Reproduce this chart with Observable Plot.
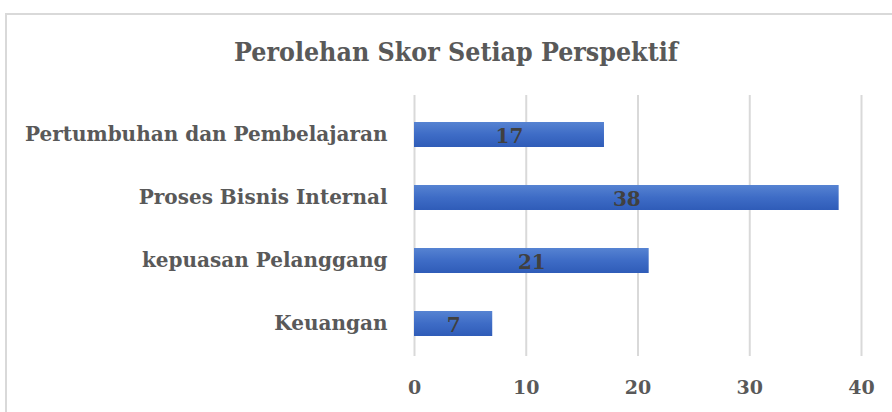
<!DOCTYPE html>
<html>
<head>
<meta charset="utf-8">
<script src="https://cdn.jsdelivr.net/npm/d3@7"></script>
<script src="https://cdn.jsdelivr.net/npm/@observablehq/plot@0.6"></script>
<style>
  html, body { margin: 0; padding: 0; background: #fff; width: 892px; height: 412px; overflow: hidden; }
  #frame { position: absolute; left: 5px; top: 13px; width: 1000px; height: 600px; border-left: 2px solid #d9d9d9; border-top: 2px solid #d9d9d9; }
  #title { position: absolute; left: 0; width: 912px; top: 36px; text-align: center; font-family: "DejaVu Serif Condensed", "DejaVu Serif", serif; font-stretch: condensed; font-weight: bold; font-size: 26.5px; color: #595959; }
  #chart { position: absolute; left: 0; top: 80px; }
</style>
</head>
<body>
<div id="frame"></div>
<div id="title">Perolehan Skor Setiap Perspektif</div>
<div id="chart"></div>
<script>
const categories = ["Pertumbuhan dan Pembelajaran", "Proses Bisnis Internal", "kepuasan Pelanggang", "Keuangan"];
const scores = [17, 38, 21, 7];
const xTicks = [0, 10, 20, 30, 40];

const data = categories.map((c, i) => ({category: c, score: scores[i]}));
const font = "DejaVu Serif";

const plot = Plot.plot({
  width: 892,
  height: 332,
  marginLeft: 414,
  marginRight: 31,
  marginTop: 22,
  marginBottom: 56,
  style: {fontFamily: font, background: "transparent"},
  x: {domain: [0, 40], ticks: xTicks, grid: false},
  y: {domain: categories, paddingInner: 0.61, paddingOuter: 0.305},
  marks: [
    Plot.ruleX(xTicks, {x: d => d, stroke: "#d9d9d9", strokeWidth: 2, strokeOpacity: 1, insetTop: -7}),
    Plot.barX(data, {y: "category", x: "score", fill: "url(#barGrad)", style: "filter: drop-shadow(2px 4px 3px rgba(0,0,0,0.4))"}),
    Plot.text(data, {y: "category", x: d => d.score / 2, text: d => String(d.score), fill: "#404040", fontSize: 20, fontWeight: "bold", dy: 2}),
    Plot.axisX({ticks: xTicks, tickSize: 0, tickPadding: 24, fontSize: 19, fontWeight: "bold", color: "#595959", label: null}),
    Plot.axisY({tickSize: 0, tickPadding: 27, fontSize: 20, fontWeight: "bold", color: "#595959", label: null})
  ]
});

const svgNS = "http://www.w3.org/2000/svg";
const defs = document.createElementNS(svgNS, "defs");
defs.innerHTML = '<linearGradient id="barGrad" x1="0" y1="0" x2="0" y2="1">' +
  '<stop offset="0" stop-color="#5683d2"/>' +
  '<stop offset="0.5" stop-color="#3e6cc6"/>' +
  '<stop offset="1" stop-color="#2f5cb8"/></linearGradient>';
plot.insertBefore(defs, plot.firstChild);
document.getElementById("chart").appendChild(plot);
</script>
</body>
</html>
